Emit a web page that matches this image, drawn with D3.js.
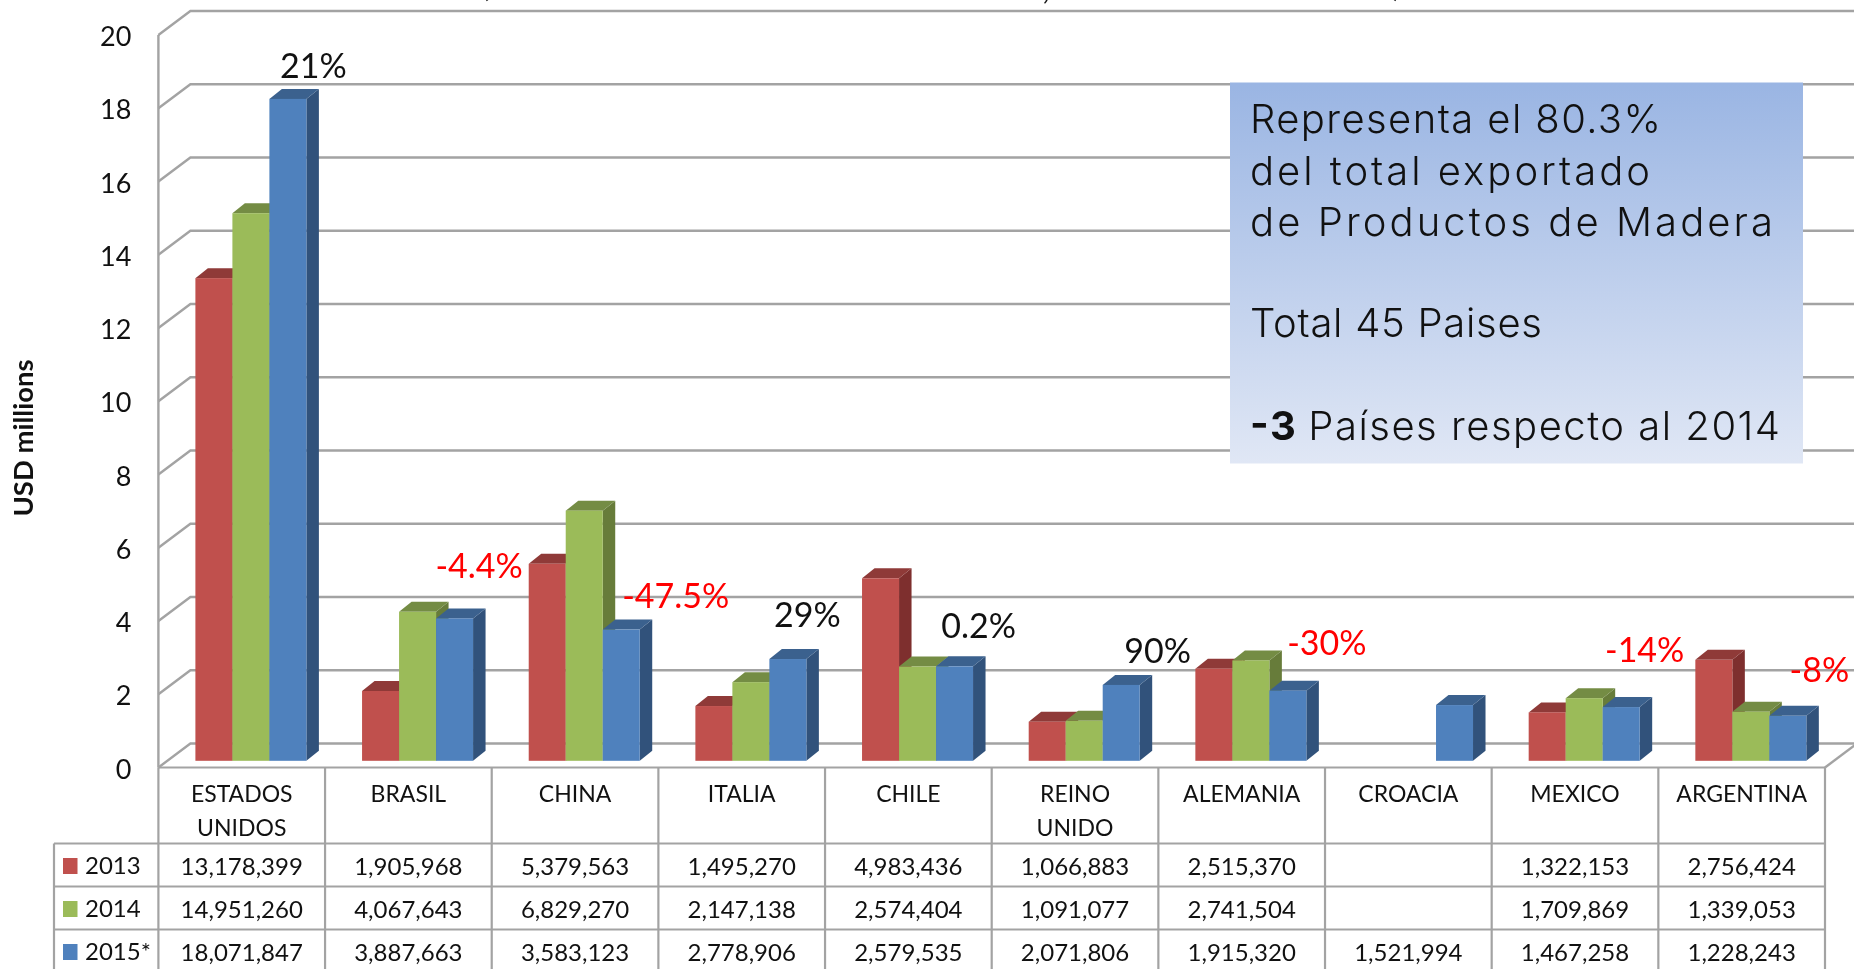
<!DOCTYPE html>
<html><head><meta charset="utf-8">
<script src="https://cdn.jsdelivr.net/npm/d3@7"></script>
<style>
html,body{margin:0;padding:0;background:#fff;overflow:hidden}
svg{display:block;filter:blur(0.4px)}
text{font-family:Lato,Carlito,sans-serif;fill:#111}
</style></head><body><svg id="c" width="1854" height="969"></svg>
<script>
const categories = ["ESTADOS UNIDOS","BRASIL","CHINA","ITALIA","CHILE","REINO UNIDO","ALEMANIA","CROACIA","MEXICO","ARGENTINA"];
const seriesNames = ["2013","2014","2015*"];
const values2013 = [13178399,1905968,5379563,1495270,4983436,1066883,2515370,null,1322153,2756424];
const values2014 = [14951260,4067643,6829270,2147138,2574404,1091077,2741504,null,1709869,1339053];
const values2015 = [18071847,3887663,3583123,2778906,2579535,2071806,1915320,1521994,1467258,1228243];
const yTicks = [0,2,4,6,8,10,12,14,16,18,20];
const changeLabels = ["21%","-4.4%","-47.5%","29%","0.2%","90%","-30%",null,"-14%","-8%"];
const changeNegative = [false,true,true,false,false,false,true,false,true,true];
const boxLines = ["Representa el 80.3%","del total exportado","de Productos de Madera","","Total 45 Paises","","Países respecto al 2014"];
const boxBold = "-3";
const yAxisTitle = "USD millions";

// layout
const W=1854,H=969, left=158.4,right=1825, y0=767.5,y20=35, tableLeft=54;
const wallDx=32, wallDy=-24, barDx=12.5, barDy=-10, barLift=6.7, lineCol="#a3a3a3";
const rowLines=[843.5,886.5,929.5], rowText=[866,909,952];
const series=[values2013,values2014,values2015];
const front=["#c0504d","#9bbb59","#4f81bd"], top_=["#8f3a38","#748c44","#3b618e"], side=["#7e2f2e","#677c3a","#31527b"];
// label centre: offset from category left edge (px), height above base (axis units)
const labelAnchor=[[155,19.17],[154,5.52],[184,4.7],[149,4.17],[153.5,3.87],[166,3.2],[168.5,3.4],null,[153,3.22],[161,2.67]];

const svg=d3.select("#c");
const y=d3.scaleLinear().domain([0,20]).range([y0,y20]);
const x=d3.scaleBand().domain(categories).range([left,right]);
const xs=d3.scaleBand().domain(d3.range(3)).range([37,37+111]);

const defs=svg.append("defs");
const g=defs.append("linearGradient").attr("id","bx").attr("x1",0).attr("x2",0).attr("y1",0).attr("y2",1);
g.append("stop").attr("offset",0).attr("stop-color","#9ab5e3");
g.append("stop").attr("offset",1).attr("stop-color","#e0e7f5");

// walls
const grid=svg.append("g").attr("fill","none").attr("stroke",lineCol).attr("stroke-width",2.4);
grid.selectAll("path").data(yTicks).join("path")
  .attr("d",d=>`M${left},${y(d)}L${left+wallDx},${y(d)+wallDy}L${W+2},${y(d)+wallDy}`);
grid.append("path").attr("d",`M${left},${y20}V${y0}`);
grid.append("path").attr("d",`M${right},${y0}L${right+wallDx},${y0+wallDy}`);

// axis labels through d3.axisLeft
const ax=svg.append("g").attr("transform",`translate(${left-9},2)`)
  .call(d3.axisLeft(y).tickValues(yTicks).tickSize(0).tickPadding(18));
ax.select(".domain").remove();
ax.selectAll("text").style("font-size","27px").style("fill","#111");

svg.append("text").attr("transform",`translate(33,438) rotate(-90)`)
  .attr("text-anchor","middle").attr("font-size",27.5).attr("font-weight",700).text(yAxisTitle);

// bars
categories.forEach((c,i)=>{
  series.forEach((s,k)=>{
    const v=s[i]; if(v==null) return;
    const m=v/1e6, bw=xs.bandwidth(), xl=x(c)+xs(k), xr=xl+bw, yb=y0-barLift, yt=y(m)-barLift;
    const b=svg.append("g");
    b.append("path").attr("fill",side[k]).attr("d",`M${xr},${yb}L${xr+barDx},${yb+barDy}V${yt+barDy}L${xr},${yt}Z`);
    b.append("path").attr("fill",top_[k]).attr("d",`M${xl},${yt}L${xl+barDx},${yt+barDy}H${xr+barDx}L${xr},${yt}Z`);
    b.append("rect").attr("fill",front[k]).attr("x",xl).attr("y",yt).attr("width",bw).attr("height",yb-yt);
  });
});

// change labels
categories.forEach((c,i)=>{
  if(!changeLabels[i]) return;
  const a=labelAnchor[i];
  svg.append("text").attr("x",x(c)+a[0]).attr("y",y(a[1])).attr("dy","0.36em").attr("text-anchor","middle")
    .attr("font-size",34).style("fill",changeNegative[i]?"#ff0000":"#111").text(changeLabels[i]);
});

// data table
const t=svg.append("g").attr("fill","none").attr("stroke",lineCol).attr("stroke-width",2.2);
t.append("path").attr("d",`M${left},${y0}H${right}`);
rowLines.forEach(r=>t.append("path").attr("d",`M${tableLeft},${r}H${right}`));
t.append("path").attr("d",`M${tableLeft},${rowLines[0]}V${H}`);
[...categories.map(c=>x(c)),right].forEach(v=>t.append("path").attr("d",`M${v},${y0}V${H}`));

const fmt=d3.format(",");
categories.forEach(c=>{
  const parts=(c==="ESTADOS UNIDOS"||c==="REINO UNIDO")?c.split(" "):[c];
  parts.forEach((p,j)=>svg.append("text").attr("x",x(c)+x.bandwidth()/2).attr("y",794+j*34).attr("dy","0.36em")
    .attr("text-anchor","middle").attr("font-size",23).text(p));
});
series.forEach((s,k)=>{
  svg.append("rect").attr("x",63).attr("y",rowText[k]-8).attr("width",14.5).attr("height",16).attr("fill",front[k]);
  svg.append("text").attr("x",85).attr("y",rowText[k]-1).attr("dy","0.36em").attr("font-size",24).text(seriesNames[k]);
  categories.forEach((c,i)=>{
    if(s[i]==null) return;
    svg.append("text").attr("x",x(c)+x.bandwidth()/2).attr("y",rowText[k]).attr("dy","0.36em")
      .attr("text-anchor","middle").attr("font-size",24).text(fmt(s[i]));
  });
});

// text box
svg.append("rect").attr("x",1230).attr("y",82.5).attr("width",573).attr("height",381).attr("fill","url(#bx)");
const baselines=[133,185,236,null,337,null,440];
const fitWidths=[411,400,523,null,292,null,null];
boxLines.forEach((l,i)=>{
  if(!l) return;
  const tx=svg.append("text").attr("x",1250).attr("y",baselines[i]).attr("font-size",40).attr("font-weight",300).style("font-family","Inter,Lato,sans-serif");
  if(i===6){
    tx.attr("textLength",530).attr("lengthAdjust","spacing");
    tx.append("tspan").attr("font-weight",700).text(boxBold+" ");
    tx.append("tspan").text(l);
  } else {
    tx.attr("textLength",fitWidths[i]).attr("lengthAdjust","spacing").text(l);
  }
});

// clipped remnants of the title at the very top edge
[[485,"(",-4],[1046,",",-1],[1397,")",-4]].forEach(d=>{
  svg.append("text").attr("x",d[0]).attr("y",d[2]).attr("text-anchor","middle").attr("font-size",34).text(d[1]);
});
</script></body></html>
